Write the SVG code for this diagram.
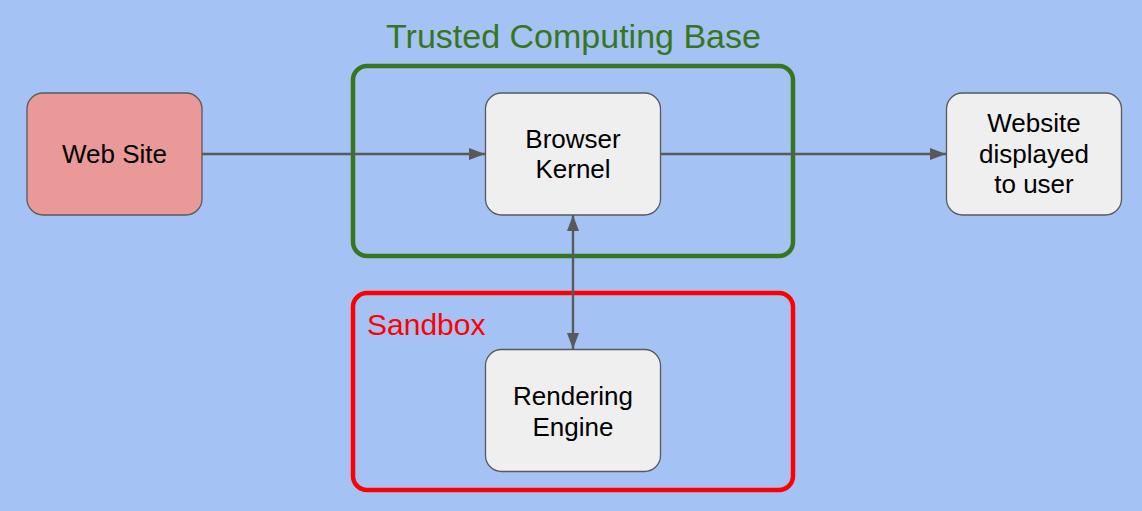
<svg xmlns="http://www.w3.org/2000/svg" width="1142" height="511" viewBox="0 0 1142 511">
<defs>
<style>
.node{fill:#efefef;stroke:#595959;stroke-width:1.3}
.lbl{font-family:"Liberation Sans",Arial,sans-serif;font-size:26px;fill:#000;text-anchor:middle}
.edge{stroke:#595959;stroke-width:2.4;fill:none}
.grp{fill:none;stroke-width:4.5}
</style>
<marker id="ah" viewBox="0 0 16 12" refX="16" refY="6" markerWidth="16" markerHeight="12" markerUnits="userSpaceOnUse" orient="auto-start-reverse">
<path d="M0,0 L16,6 L0,12 Z" fill="#595959"/>
</marker>
</defs>
<rect width="1142" height="511" fill="#a4c2f4"/>
<g id="tcb">
<rect class="grp" x="353" y="66" width="440" height="190" rx="14" stroke="#38761d"/>
<text x="573.5" y="47.5" font-family="Liberation Sans,Arial,sans-serif" font-size="34" fill="#38761d" text-anchor="middle">Trusted Computing Base</text>
</g>
<g id="sandbox">
<rect class="grp" x="353" y="293" width="440" height="197" rx="14" stroke="#ff0000"/>
<text x="367" y="335" font-family="Liberation Sans,Arial,sans-serif" font-size="30" fill="#ff0000">Sandbox</text>
</g>
<g id="connectors">
<line class="edge" x1="202" y1="154" x2="485" y2="154" marker-end="url(#ah)"/>
<line class="edge" x1="661" y1="154" x2="946" y2="154" marker-end="url(#ah)"/>
<line class="edge" x1="573" y1="215" x2="573" y2="349" marker-start="url(#ah)" marker-end="url(#ah)"/>
</g>
<g id="web-site">
<rect class="node" x="27" y="93" width="175" height="122" rx="16" style="fill:#ea9999"/>
<text class="lbl" x="114.5" y="163">Web Site</text>
</g>
<g id="browser-kernel">
<rect class="node" x="485.5" y="93" width="175" height="122" rx="16"/>
<text class="lbl" x="573" y="147.5">Browser</text>
<text class="lbl" x="573" y="178.3">Kernel</text>
</g>
<g id="website-displayed">
<rect class="node" x="946.5" y="93" width="175" height="122" rx="16"/>
<text class="lbl" x="1034" y="131.5">Website</text>
<text class="lbl" x="1034" y="162.5">displayed</text>
<text class="lbl" x="1034" y="193.3">to user</text>
</g>
<g id="rendering-engine">
<rect class="node" x="485.5" y="349.5" width="175" height="122" rx="16"/>
<text class="lbl" x="573" y="405">Rendering</text>
<text class="lbl" x="573" y="435.7">Engine</text>
</g>
</svg>
